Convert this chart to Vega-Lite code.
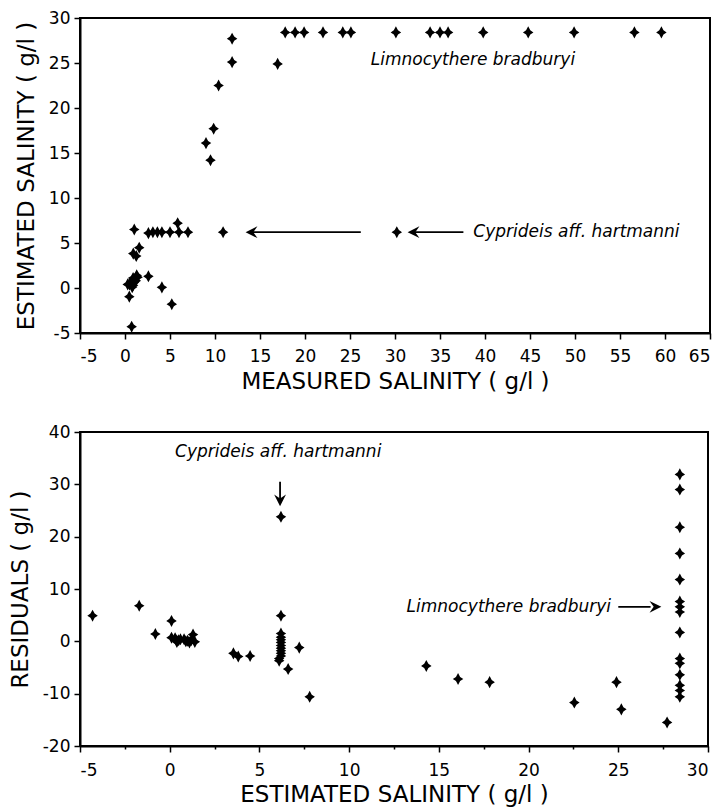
{
  "$schema": "https://vega.github.io/schema/vega-lite/v6.json",
  "background": "white",
  "padding": {"left": 8, "top": 8, "right": 0, "bottom": 0},
  "spacing": 99,
  "bounds": "flush",
  "datasets": {
    "calib": [
      {"measured": 17.8, "estimated": 28.4}, {"measured": 18.9, "estimated": 28.4}, {"measured": 19.9, "estimated": 28.4},
      {"measured": 22.0, "estimated": 28.4}, {"measured": 24.2, "estimated": 28.4}, {"measured": 25.1, "estimated": 28.4},
      {"measured": 30.1, "estimated": 28.4}, {"measured": 33.9, "estimated": 28.4}, {"measured": 35.0, "estimated": 28.4},
      {"measured": 35.9, "estimated": 28.4}, {"measured": 39.8, "estimated": 28.4}, {"measured": 44.8, "estimated": 28.4},
      {"measured": 49.9, "estimated": 28.4}, {"measured": 56.6, "estimated": 28.4}, {"measured": 59.6, "estimated": 28.4},
      {"measured": 9.0, "estimated": 16.1}, {"measured": 9.5, "estimated": 14.2}, {"measured": 9.85, "estimated": 17.7},
      {"measured": 10.4, "estimated": 22.5}, {"measured": 11.9, "estimated": 27.7}, {"measured": 11.9, "estimated": 25.1},
      {"measured": 16.96, "estimated": 24.9},
      {"measured": 1.03, "estimated": 6.5}, {"measured": 5.85, "estimated": 7.2},
      {"measured": 2.6, "estimated": 6.1}, {"measured": 3.1, "estimated": 6.2}, {"measured": 3.6, "estimated": 6.2},
      {"measured": 4.1, "estimated": 6.2}, {"measured": 5.0, "estimated": 6.2}, {"measured": 6.0, "estimated": 6.2},
      {"measured": 7.0, "estimated": 6.2}, {"measured": 10.9, "estimated": 6.2}, {"measured": 30.2, "estimated": 6.2},
      {"measured": 1.25, "estimated": 3.55}, {"measured": 0.92, "estimated": 3.82}, {"measured": 1.58, "estimated": 4.48},
      {"measured": 0.8, "estimated": 0.1}, {"measured": 0.9, "estimated": 0.3}, {"measured": 0.7, "estimated": 0.5},
      {"measured": 1.0, "estimated": 0.6}, {"measured": 1.2, "estimated": 0.8}, {"measured": 0.9, "estimated": 0.9},
      {"measured": 1.1, "estimated": 1.0}, {"measured": 0.9, "estimated": 1.1}, {"measured": 1.4, "estimated": 1.2},
      {"measured": 1.3, "estimated": 1.4}, {"measured": 0.5, "estimated": 0.4}, {"measured": 0.3, "estimated": 0.4},
      {"measured": 0.48, "estimated": -0.96}, {"measured": 2.6, "estimated": 1.3}, {"measured": 4.1, "estimated": 0.07},
      {"measured": 5.2, "estimated": -1.8}, {"measured": 0.74, "estimated": -4.3}
    ],
    "resid": [
      {"estimated": -4.3, "residual": 4.9}, {"estimated": -1.7, "residual": 6.8}, {"estimated": -0.8, "residual": 1.4},
      {"estimated": 0.1, "residual": 3.9},
      {"estimated": 0.1, "residual": 0.7}, {"estimated": 0.3, "residual": 0.6}, {"estimated": 0.5, "residual": 0.2},
      {"estimated": 0.6, "residual": 0.4}, {"estimated": 0.8, "residual": 0.4}, {"estimated": 0.9, "residual": 0.0},
      {"estimated": 1.0, "residual": 0.1}, {"estimated": 1.1, "residual": -0.2}, {"estimated": 1.2, "residual": 0.2},
      {"estimated": 1.4, "residual": -0.1}, {"estimated": 0.4, "residual": 0.1}, {"estimated": 0.4, "residual": -0.1},
      {"estimated": 1.3, "residual": 1.3},
      {"estimated": 3.55, "residual": -2.3}, {"estimated": 3.82, "residual": -2.9}, {"estimated": 4.48, "residual": -2.8},
      {"estimated": 6.2, "residual": 23.8}, {"estimated": 6.2, "residual": 4.9},
      {"estimated": 6.2, "residual": 1.5}, {"estimated": 6.2, "residual": 0.8}, {"estimated": 6.2, "residual": 0.3},
      {"estimated": 6.2, "residual": -0.2}, {"estimated": 6.2, "residual": -0.8}, {"estimated": 6.2, "residual": -1.3},
      {"estimated": 6.2, "residual": -1.8}, {"estimated": 6.2, "residual": -2.3}, {"estimated": 6.2, "residual": -2.8},
      {"estimated": 6.1, "residual": -3.3}, {"estimated": 6.1, "residual": -3.7},
      {"estimated": 6.6, "residual": -5.3}, {"estimated": 7.22, "residual": -1.2}, {"estimated": 7.8, "residual": -10.6},
      {"estimated": 14.3, "residual": -4.7}, {"estimated": 16.07, "residual": -7.2}, {"estimated": 17.83, "residual": -7.8},
      {"estimated": 22.55, "residual": -11.7}, {"estimated": 24.9, "residual": -7.8}, {"estimated": 25.17, "residual": -13.0},
      {"estimated": 27.72, "residual": -15.5},
      {"estimated": 28.43, "residual": 31.9}, {"estimated": 28.43, "residual": 29.0}, {"estimated": 28.43, "residual": 21.8},
      {"estimated": 28.43, "residual": 16.8}, {"estimated": 28.43, "residual": 11.8}, {"estimated": 28.43, "residual": 7.6},
      {"estimated": 28.43, "residual": 6.6}, {"estimated": 28.43, "residual": 5.6}, {"estimated": 28.43, "residual": 1.7},
      {"estimated": 28.43, "residual": -3.3}, {"estimated": 28.43, "residual": -4.2}, {"estimated": 28.43, "residual": -6.4},
      {"estimated": 28.43, "residual": -8.4}, {"estimated": 28.43, "residual": -9.4}, {"estimated": 28.43, "residual": -10.6}
    ]
  },
  "vconcat": [
    {
      "width": 630,
      "height": 315,
      "layer": [
        {
          "data": {"name": "calib"},
          "mark": {"type": "point", "shape": "M0,-1.15 L0.4,-0.4 L1,0 L0.4,0.4 L0,1.15 L-0.4,0.4 L-1,0 L-0.4,-0.4 Z", "filled": true, "color": "black", "opacity": 1, "size": 110},
          "encoding": {
            "x": {"field": "measured", "type": "quantitative",
                  "scale": {"domain": [-5, 65], "nice": false, "zero": false},
                  "axis": {"title": "MEASURED SALINITY ( g/l )", "values": [-5, 0, 5, 10, 15, 20, 25, 30, 35, 40, 45, 50, 55, 60, 65],
                           "labelExpr": "'' + datum.value", "labelPadding": 9, "titlePadding": 6}},
            "y": {"field": "estimated", "type": "quantitative",
                  "scale": {"domain": [-5, 30], "nice": false, "zero": false},
                  "axis": {"title": "ESTIMATED SALINITY ( g/l )", "values": [-5, 0, 5, 10, 15, 20, 25, 30],
                           "labelExpr": "'' + datum.value", "labelPadding": 4, "titlePadding": 10}}
          }
        },
        {
          "data": {"values": [
            {"x": 26.2, "x2": 14.0, "y": 6.2},
            {"x": 37.6, "x2": 32.0, "y": 6.2}
          ]},
          "mark": {"type": "rule", "color": "black", "strokeWidth": 1.8},
          "encoding": {
            "x": {"field": "x", "type": "quantitative"},
            "x2": {"field": "x2"},
            "y": {"field": "y", "type": "quantitative"}
          }
        },
        {
          "data": {"values": [
            {"x": 13.4, "y": 6.2},
            {"x": 31.4, "y": 6.2}
          ]},
          "mark": {"type": "point", "shape": "M0,0 L2,-1 L1.3,0 L2,1 Z", "filled": true, "color": "black", "opacity": 1, "size": 140},
          "encoding": {
            "x": {"field": "x", "type": "quantitative"},
            "y": {"field": "y", "type": "quantitative"}
          }
        },
        {
          "data": {"values": [
            {"x": 38.7, "y": 6.2, "label": "Cyprideis aff. hartmanni"},
            {"x": 27.3, "y": 25.3, "label": "Limnocythere bradburyi"}
          ]},
          "mark": {"type": "text", "align": "left", "baseline": "middle", "font": "DejaVu Sans", "fontStyle": "italic", "fontSize": 17, "color": "black"},
          "encoding": {
            "x": {"field": "x", "type": "quantitative"},
            "y": {"field": "y", "type": "quantitative"},
            "text": {"field": "label"}
          }
        }
      ]
    },
    {
      "width": 628,
      "height": 314,
      "layer": [
        {
          "data": {"name": "resid"},
          "mark": {"type": "point", "shape": "M0,-1.15 L0.4,-0.4 L1,0 L0.4,0.4 L0,1.15 L-0.4,0.4 L-1,0 L-0.4,-0.4 Z", "filled": true, "color": "black", "opacity": 1, "size": 110},
          "encoding": {
            "x": {"field": "estimated", "type": "quantitative",
                  "scale": {"domain": [-5, 30], "nice": false, "zero": false},
                  "axis": {"title": "ESTIMATED SALINITY ( g/l )", "values": [-5, -2.5, 0, 2.5, 5, 7.5, 10, 12.5, 15, 17.5, 20, 22.5, 25, 27.5, 30],
                           "labelExpr": "datum.value % 5 === 0 ? '' + datum.value : ''",
                           "tickSize": {"condition": {"test": "datum.value % 5 !== 0", "value": 3}, "value": 6},
                           "labelPadding": 10, "titlePadding": 5}},
            "y": {"field": "residual", "type": "quantitative",
                  "scale": {"domain": [-20, 40], "nice": false, "zero": false},
                  "axis": {"title": "RESIDUALS ( g/l )", "values": [-20, -15, -10, -5, 0, 5, 10, 15, 20, 25, 30, 35, 40],
                           "labelExpr": "datum.value % 10 === 0 ? '' + datum.value : ''",
                           "tickSize": {"condition": {"test": "datum.value % 10 !== 0", "value": 3}, "value": 6},
                           "labelPadding": 4, "titlePadding": 10}}
          }
        },
        {
          "data": {"values": [
            {"x": 6.15, "x2": 6.15, "y": 30.5, "y2": 26.5},
            {"x": 25.0, "x2": 26.8, "y": 6.6, "y2": 6.6}
          ]},
          "mark": {"type": "rule", "color": "black", "strokeWidth": 1.8},
          "encoding": {
            "x": {"field": "x", "type": "quantitative"},
            "x2": {"field": "x2"},
            "y": {"field": "y", "type": "quantitative"},
            "y2": {"field": "y2"}
          }
        },
        {
          "data": {"values": [{"x": 6.15, "y": 25.8}]},
          "mark": {"type": "point", "shape": "M0,0 L-1,-2 L0,-1.3 L1,-2 Z", "filled": true, "color": "black", "opacity": 1, "size": 140},
          "encoding": {
            "x": {"field": "x", "type": "quantitative"},
            "y": {"field": "y", "type": "quantitative"}
          }
        },
        {
          "data": {"values": [{"x": 27.4, "y": 6.6}]},
          "mark": {"type": "point", "shape": "M0,0 L-2,-1 L-1.3,0 L-2,1 Z", "filled": true, "color": "black", "opacity": 1, "size": 140},
          "encoding": {
            "x": {"field": "x", "type": "quantitative"},
            "y": {"field": "y", "type": "quantitative"}
          }
        },
        {
          "data": {"values": [
            {"x": 0.3, "y": 36.2, "label": "Cyprideis aff. hartmanni"},
            {"x": 13.2, "y": 6.6, "label": "Limnocythere bradburyi"}
          ]},
          "mark": {"type": "text", "align": "left", "baseline": "middle", "font": "DejaVu Sans", "fontStyle": "italic", "fontSize": 17, "color": "black"},
          "encoding": {
            "x": {"field": "x", "type": "quantitative"},
            "y": {"field": "y", "type": "quantitative"},
            "text": {"field": "label"}
          }
        }
      ]
    }
  ],
  "config": {
    "view": {"stroke": "black", "strokeWidth": 2},
    "axis": {
      "grid": false,
      "domainColor": "black", "domainWidth": 2,
      "tickColor": "black", "tickWidth": 1.5, "tickSize": 6,
      "labelColor": "black", "labelFont": "DejaVu Sans", "labelFontSize": 17,
      "titleColor": "black", "titleFont": "DejaVu Sans", "titleFontSize": 23, "titleFontWeight": "normal"
    }
  }
}
